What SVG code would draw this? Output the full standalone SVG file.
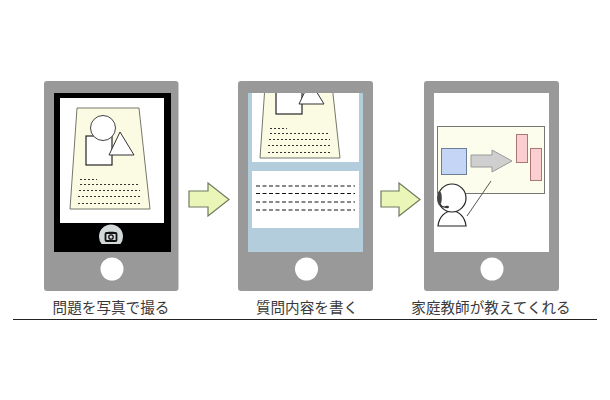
<svg xmlns="http://www.w3.org/2000/svg" width="610" height="400" viewBox="0 0 610 400">
<style>
.body{fill:#999}
.home{fill:#fff}
.paper{fill:#fbfbe4;stroke:#77776a;stroke-width:1}
.dots{fill:none;stroke:#333;stroke-width:1.1;stroke-dasharray:2 2}
.dash{fill:none;stroke:#111;stroke-width:1;stroke-dasharray:4 2.5}
.flow{fill:#eaf6b8;stroke:#6f7a60;stroke-width:1.2}
.label{font-family:"Noto Sans CJK JP","Liberation Sans",sans-serif;font-size:14.6px;fill:#3a3a3a;text-anchor:middle}
</style>
<defs>
<clipPath id="clip2"><rect x="252" y="93" width="107" height="69"/></clipPath>
<clipPath id="camclip"><rect x="95" y="222" width="32" height="22"/></clipPath>
<g id="sheet">
<path class="paper" d="M77 108H139L150 209H70Z"/>
<rect x="86" y="136" width="26" height="29" fill="#fff" stroke="#111" stroke-width="1.100"/>
<circle cx="103" cy="128" r="12.500" fill="#fff" stroke="#444" stroke-width="1"/>
<path d="M120 132L109 155H134Z" fill="#fff" stroke="#333" stroke-width="1"/>
<path class="dots" d="M80 179.500H97M80 184.500H139M79 190.500H140M78 196.500H141M78 203.500H142"/>
</g>
</defs>
<rect width="610" height="400" fill="#fff"/>
<g id="phone-photo">
<rect class="body" x="44" y="81" width="134.500" height="210" rx="3"/>
<rect x="54" y="93" width="117" height="159" fill="#000"/>
<rect x="60" y="98" width="104" height="125" fill="#fff"/>
<use href="#sheet"/>
<g clip-path="url(#camclip)"><circle cx="111" cy="236.500" r="12" fill="#d3d8d8"/></g>
<rect x="105.500" y="233" width="11" height="8" rx="1" fill="none" stroke="#111" stroke-width="1.800"/>
<path d="M108 232.500H114" stroke="#111" stroke-width="1.500"/>
<circle cx="111" cy="237" r="2.200" fill="none" stroke="#111" stroke-width="1.300"/>
<circle class="home" cx="112" cy="269" r="11.500"/>
<text class="label" x="111" y="313">問題を写真で撮る</text>
</g>
<g id="phone-write">
<rect class="body" x="238" y="81" width="135" height="210" rx="3"/>
<rect x="248" y="93" width="115" height="159" fill="#b4cddc"/>
<rect x="252" y="93" width="107" height="69" fill="#fff"/>
<rect x="252" y="171" width="107" height="57" fill="#fff"/>
<g clip-path="url(#clip2)"><use href="#sheet" x="190" y="-51"/></g>
<path class="dash" d="M256 186H355M256 193.500H355M256 202H355M256 210H355"/>
<circle class="home" cx="306.500" cy="269" r="11.500"/>
<text class="label" x="307" y="313">質問内容を書く</text>
</g>
<g id="phone-tutor">
<rect class="body" x="424" y="81" width="135" height="210" rx="3"/>
<rect x="434" y="93" width="115" height="159" fill="#fff"/>
<rect x="437.500" y="126.500" width="107" height="67" fill="#fdfdee" stroke="#777" stroke-width="1"/>
<rect x="441.500" y="148.500" width="25" height="26" fill="#c5d5f5" stroke="#6b7f99" stroke-width="1"/>
<path d="M471 155H492V150L512 161L492 172V167H471Z" fill="#cfcfcf" stroke="#999" stroke-width="1"/>
<rect x="516.500" y="134.500" width="11" height="28" fill="#fbcfd2" stroke="#a77" stroke-width="1"/>
<rect x="530.500" y="148.500" width="11" height="32" fill="#fbcfd2" stroke="#a77" stroke-width="1"/>
<path d="M491 181L467 216" fill="none" stroke="#555" stroke-width="1"/>
<path d="M438 226C439 217 445 211 452 211C459 211 465 217 466 226Z" fill="#fff" stroke="#222" stroke-width="1.200"/>
<circle cx="452" cy="198" r="14" fill="#fff" stroke="#222" stroke-width="1.200"/>
<ellipse cx="439.500" cy="198" rx="2.300" ry="7" fill="#444"/>
<path d="M440 204Q442 208 447 207" fill="none" stroke="#333" stroke-width="1.200"/>
<ellipse cx="447" cy="207" rx="2" ry="1.300" fill="#333"/>
<circle class="home" cx="492" cy="269" r="11.500"/>
<text class="label" x="491" y="313">家庭教師が教えてくれる</text>
</g>
<g id="connectors">
<path class="flow" d="M189 191H208V183L229 199.500L208 216V207H189Z"/>
<path class="flow" d="M381 191H399V183L420 199.500L399 216V207H381Z"/>
</g>
<path id="rule" d="M13 319.500H597" stroke="#222" stroke-width="1"/>
</svg>
